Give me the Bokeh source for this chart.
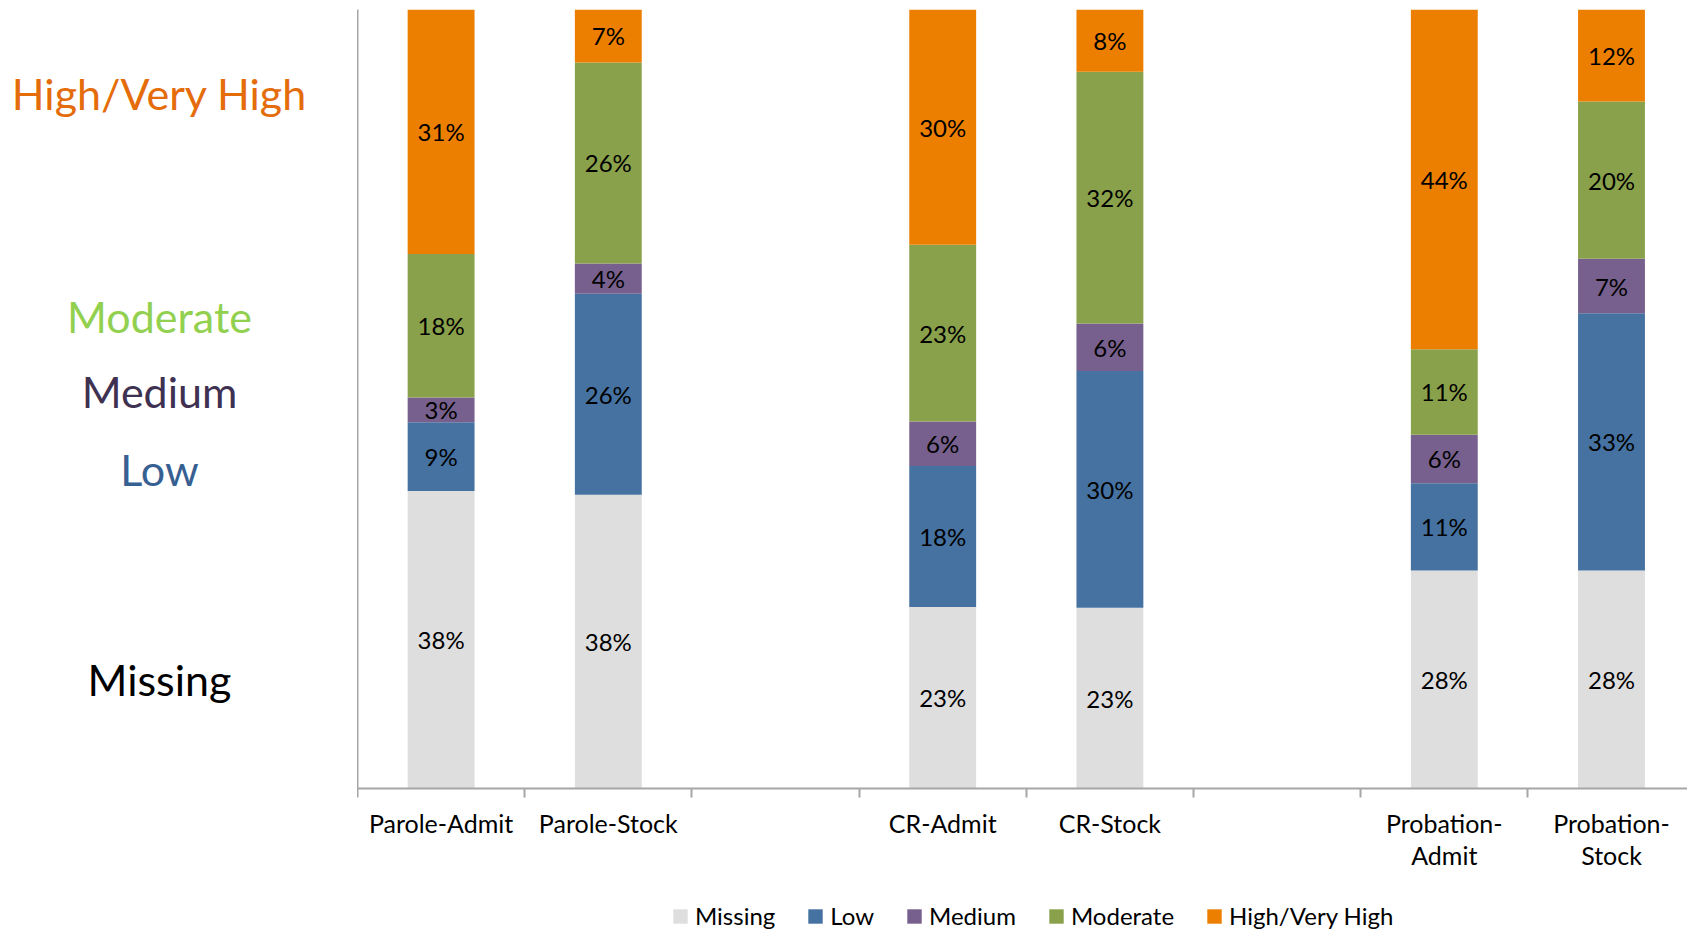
from bokeh.plotting import figure
from bokeh.layouts import row, column
from bokeh.models import Range1d, FixedTicker, Legend, LegendItem, ColumnDataSource
from bokeh.core.properties import value
from bokeh.embed import file_html
from bokeh.resources import INLINE

categories = ["Parole-Admit", "Parole-Stock", "CR-Admit", "CR-Stock",
              "Probation-\nAdmit", "Probation-\nStock"]
levels = ["Missing", "Low", "Medium", "Moderate", "High/Very High"]
missing = [38.2, 37.7, 23.3, 23.2, 28.0, 28.0]
low = [8.8, 25.8, 18.1, 30.4, 11.2, 33.0]
medium = [3.2, 3.9, 5.7, 6.1, 6.2, 7.0]
moderate = [18.4, 25.8, 22.7, 32.3, 11.0, 20.2]
high = [31.4, 6.8, 30.2, 8.0, 43.6, 11.8]

bar_colors = ["#DEDEDE", "#4572A1", "#77608D", "#8AA14B", "#ED7F00"]
side_colors = ["#000000", "#376092", "#3F3151", "#92D050", "#E46C0A"]
side_y = [14.0, 40.9, 50.9, 60.6, 89.2]

FONT = "Lato"

xs = [i + i // 2 + 0.5 for i in range(len(categories))]
series = [missing, low, medium, moderate, high]
keys = ["missing", "low", "medium", "moderate", "high"]

src = ColumnDataSource(dict(x=xs, **{k: s for k, s in zip(keys, series)}))

TOP = 9
FH = 779

# ---- left panel with the level names ----
left = figure(frame_width=357, frame_height=FH, output_backend="svg",
              toolbar_location=None, x_range=Range1d(0, 357), y_range=Range1d(0, 100),
              min_border_left=0, min_border_right=0, min_border_top=TOP,
              min_border_bottom=0)
left.axis.visible = False
left.grid.visible = False
left.outline_line_color = None
left.text(x=[159] * len(levels), y=side_y, text=levels, text_color=side_colors,
          text_align="center", text_baseline="middle",
          text_font=value(FONT), text_font_size="43px")

# ---- main chart ----
FW = 1330
p = figure(frame_width=FW, frame_height=FH, output_backend="svg",
           toolbar_location=None,
           x_range=Range1d(0, FW / 167.2), y_range=Range1d(0, 100),
           min_border_left=0, min_border_right=0, min_border_top=TOP,
           min_border_bottom=100)
p.outline_line_color = None
p.xgrid.visible = False
p.ygrid.visible = False

rs = p.vbar_stack(keys, x="x", width=0.4, color=bar_colors, source=src,
                  line_color=None)

lx, ly, lt = [], [], []
for j in range(len(categories)):
    base = 0.0
    for s in series:
        v = s[j]
        lx.append(xs[j])
        ly.append(base + v / 2)
        lt.append(f"{int(v + 0.5)}%")
        base += v
p.text(x=lx, y=ly, text=lt, text_align="center", text_baseline="middle",
       text_font=value(FONT), text_font_size="24px", text_color="black")

ax = p.xaxis[0]
ax.ticker = FixedTicker(ticks=xs, minor_ticks=list(range(0, 9)))
ax.major_label_overrides = {x: c for x, c in zip(xs, categories)}
ax.major_tick_line_color = None
ax.major_tick_out = 0
ax.major_tick_in = 0
ax.minor_tick_in = 0
ax.minor_tick_out = 9
ax.minor_tick_line_color = "#A6A6A6"
ax.minor_tick_line_width = 2
ax.axis_line_color = "#A6A6A6"
ax.axis_line_width = 2
ax.major_label_text_font = FONT
ax.major_label_text_font_size = "25px"
ax.major_label_text_color = "black"
ax.major_label_text_line_height = 1.09
ax.major_label_standoff = 10

ay = p.yaxis[0]
ay.ticker = FixedTicker(ticks=[])
ay.major_label_text_font_size = "0px"
ay.major_tick_line_color = None
ay.minor_tick_line_color = None
ay.axis_line_color = "#A6A6A6"
ay.axis_line_width = 2

# ---- legend strip ----
leg = figure(frame_width=1687, frame_height=43, output_backend="svg",
             toolbar_location=None, x_range=Range1d(0, 1), y_range=Range1d(0, 1),
             min_border_left=0, min_border_right=0, min_border_top=0,
             min_border_bottom=0)
leg.axis.visible = False
leg.grid.visible = False
leg.outline_line_color = None
# legend keys: zero-size bars (only their colours are used by the legend)
dummies = [leg.vbar(x=[0.5], bottom=[0.5], top=[0.5], width=0, color=c, line_color=None)
           for c in bar_colors]
legend = Legend(items=[LegendItem(label=n, renderers=[r]) for n, r in zip(levels, dummies)],
                orientation="horizontal", border_line_color=None,
                background_fill_alpha=0, glyph_width=18, glyph_height=18,
                label_standoff=6, spacing=31, padding=0, margin=0,
                label_text_font=FONT, label_text_font_size="24px",
                label_text_color="black", location=(671, 1))
leg.add_layout(legend)

layout = column(row(left, p), leg)
open("out.html", "w").write(file_html(layout, INLINE))
